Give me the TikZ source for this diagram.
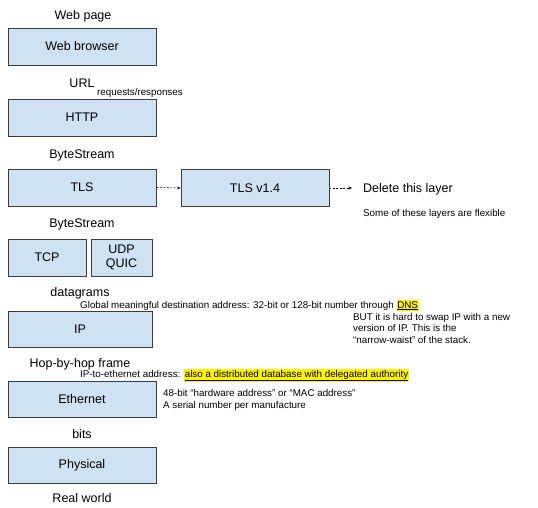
\documentclass[tikz,border=0pt]{standalone}
\usepackage{fontspec}
\setmainfont{Liberation Sans}
\usetikzlibrary{arrows.meta}
\definecolor{boxfill}{HTML}{CFE2F3}
\definecolor{boxline}{HTML}{3C3C3C}
\newcommand{\hl}[1]{{\setlength{\fboxsep}{0.8pt}\colorbox{yellow}{\underline{#1}}}}
\begin{document}
\begin{tikzpicture}[x=1pt,y=-1pt,
  layer/.style={draw=boxline,fill=boxfill,line width=0.8pt,minimum width=148pt,minimum height=37pt,inner sep=0pt,font=\fontsize{12.5}{14}\selectfont,align=center},
  big/.style={inner sep=0pt,font=\fontsize{12.5}{14}\selectfont},
  small/.style={inner sep=0pt,font=\fontsize{9.8}{11.5}\selectfont},
  dasharrow/.style={draw=black,line width=0.6pt,dash pattern=on 2pt off 1.5pt,-{Stealth[length=3.5pt,width=3pt]}}]
\useasboundingbox (0,0) rectangle (538,507);
% layer boxes
\node[layer] (web) at (82,46.5) {Web browser};
\node[layer] (http) at (82,117.5) {HTTP};
\node[layer] (tls) at (82,187.5) {TLS};
\node[layer] (tls14) at (255,188) {TLS v1.4};
\node[layer,minimum width=78pt] (tcp) at (47,257.5) {TCP};
\node[layer,minimum width=61pt] (udp) at (121.5,257.5) {UDP\\QUIC};
\node[layer,minimum width=144pt,minimum height=36pt] (ip) at (80,329) {IP};
\node[layer,minimum height=36pt] (eth) at (82,399) {Ethernet};
\node[layer,minimum height=36pt] (phys) at (82,465) {Physical};
% labels
\node[big,anchor=base] (lwebpage) at (83,19) {Web page};
\node[big,anchor=base] (lurl) at (82,87) {URL};
\node[small,anchor=base west] (lreq) at (97,95.5) {requests/responses};
\node[big,anchor=base] (lbs1) at (82,158) {ByteStream};
\node[big,anchor=base] (lbs2) at (82,227) {ByteStream};
\node[big,anchor=base west] (ldel) at (363,192) {Delete this layer};
\node[small,anchor=base west] (lflex) at (363,216.5) {Some of these layers are flexible};
\node[big,anchor=base] (ldg) at (80,296) {datagrams};
\node[small,anchor=base west] (lglobal) at (80,308) {Global meaningful destination address: 32-bit or 128-bit number through \hl{DNS}};
\node[small,anchor=base west,align=left] (lbut) at (353,343) {BUT it is hard to swap IP with a new\\version of IP. This is the\\``narrow-waist'' of the stack.};
\node[big,anchor=base] (lhop) at (80,367) {Hop-by-hop frame};
\node[small,anchor=base west] (lip2eth) at (80,377) {IP-to-ethernet address: \hl{also a distributed database with delegated authority}};
\node[small,anchor=base west,align=left] (lmac) at (163,408) {48-bit ``hardware address'' or ``MAC address''\\A serial number per manufacture};
\node[big,anchor=base] (lbits) at (82,438) {bits};
\node[big,anchor=base] (lreal) at (82,502) {Real world};
% connectors
\coordinate (delend) at (352,188);
\draw[dasharrow] (tls.east) -- (tls14.west);
\draw[dasharrow] (tls14.east) -- (delend);
\end{tikzpicture}
\end{document}
